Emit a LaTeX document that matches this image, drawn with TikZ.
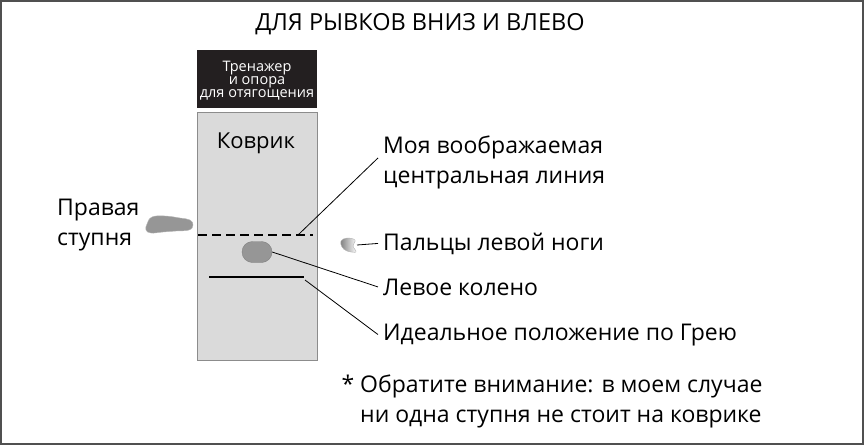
\documentclass[tikz,border=0pt]{standalone}
\usepackage{fontspec}
\setmainfont{Open Sans}
\usetikzlibrary{positioning,shapes.misc}
\definecolor{matgray}{RGB}{218,218,218}
\definecolor{matedge}{RGB}{140,140,140}
\definecolor{boxdark}{RGB}{35,31,32}
\definecolor{footgray}{RGB}{150,150,150}
\definecolor{framegray}{RGB}{80,80,80}
\tikzset{
  lbl/.style={anchor=base west,inner sep=0pt,align=left,font=\fontsize{23}{30}\selectfont},
  lead/.style={black,line width=0.8pt},
  matline/.style={black,line width=1.5pt}
}

\begin{document}
\begin{tikzpicture}[x=1pt,y=-1pt]
    \useasboundingbox (0,0) rectangle (864,445);
    \draw[framegray,line width=2pt] (1,1) rectangle (863,444);
    % title
    \node[anchor=base,inner sep=0pt,font=\fontsize{23.5}{28}\selectfont] (title) at (420,30) {ДЛЯ РЫВКОВ ВНИЗ И ВЛЕВО};
    % trainer and mat
    \node[fill=boxdark,minimum width=120,minimum height=58,anchor=north west,inner sep=0pt] (box) at (197,50) {};
    \node[white,align=center,inner sep=0pt,anchor=base,font=\fontsize{14.5}{13}\selectfont] (boxtext) at (257,97) {Тренажер\\и опора\\для отягощения};
    \node[draw=matedge,fill=matgray,minimum width=120,minimum height=248,anchor=north west,inner sep=0pt] (mat) at (197,112) {};
    \node[anchor=base,inner sep=0pt,font=\fontsize{22}{26}\selectfont] (matname) at (256,148) {Коврик};
    % lines on the mat
    \coordinate (cla) at (198,235);
    \coordinate (clb) at (313,235);
    \coordinate (clmark) at (298,235);
    \draw[matline,dash pattern=on 9pt off 5pt] (cla) -- (clb);
    \coordinate (gra) at (209,277);
    \coordinate (grb) at (304,277);
    \coordinate (grmark) at (305,280);
    \draw[matline] (gra) -- (grb);
    \node[rounded rectangle,draw=gray,fill=footgray,minimum width=30,minimum height=21,inner sep=0pt] (knee) at (257,252) {};
    % feet
    \draw[footgray!70,fill=footgray] plot[smooth cycle,tension=0.7] coordinates {(147,224) (152,217) (165,216) (180,218) (190,220) (193,225) (189,230) (176,231) (163,232) (151,233) (146,230)};
    \draw[gray!60,left color=gray,right color=white] plot[smooth cycle,tension=0.6] coordinates {(341,241) (347,238) (355,240) (353,246) (356,252) (347,251) (342,247)};
    \coordinate (toes) at (357,245);
    % labels
    \node[lbl] (right) at (57,245) {Правая\\ступня};
    \node[lbl] (central) at (383,183) {Моя воображаемая\\центральная линия};
    \node[lbl] (fingers) at (383,250) {Пальцы левой ноги};
    \node[lbl] (kneelbl) at (383,295) {Левое колено};
    \node[lbl] (gray) at (383,340) {Идеальное положение по Грею};
    \node[lbl] (note) at (360,422) {\llap{*\ }Обратите внимание: в моем случае\\ни одна ступня не стоит на коврике};
    % leaders
    \draw[lead] (clmark) -- ([xshift=-5pt,yshift=4pt]central.west);
    \draw[lead] (toes) -- ([xshift=-5pt]fingers.west);
    \draw[lead] (knee.east) -- ([xshift=-5pt]kneelbl.west);
    \draw[lead] (grmark) -- ([xshift=-5pt]gray.west);
\end{tikzpicture}
\end{document}
